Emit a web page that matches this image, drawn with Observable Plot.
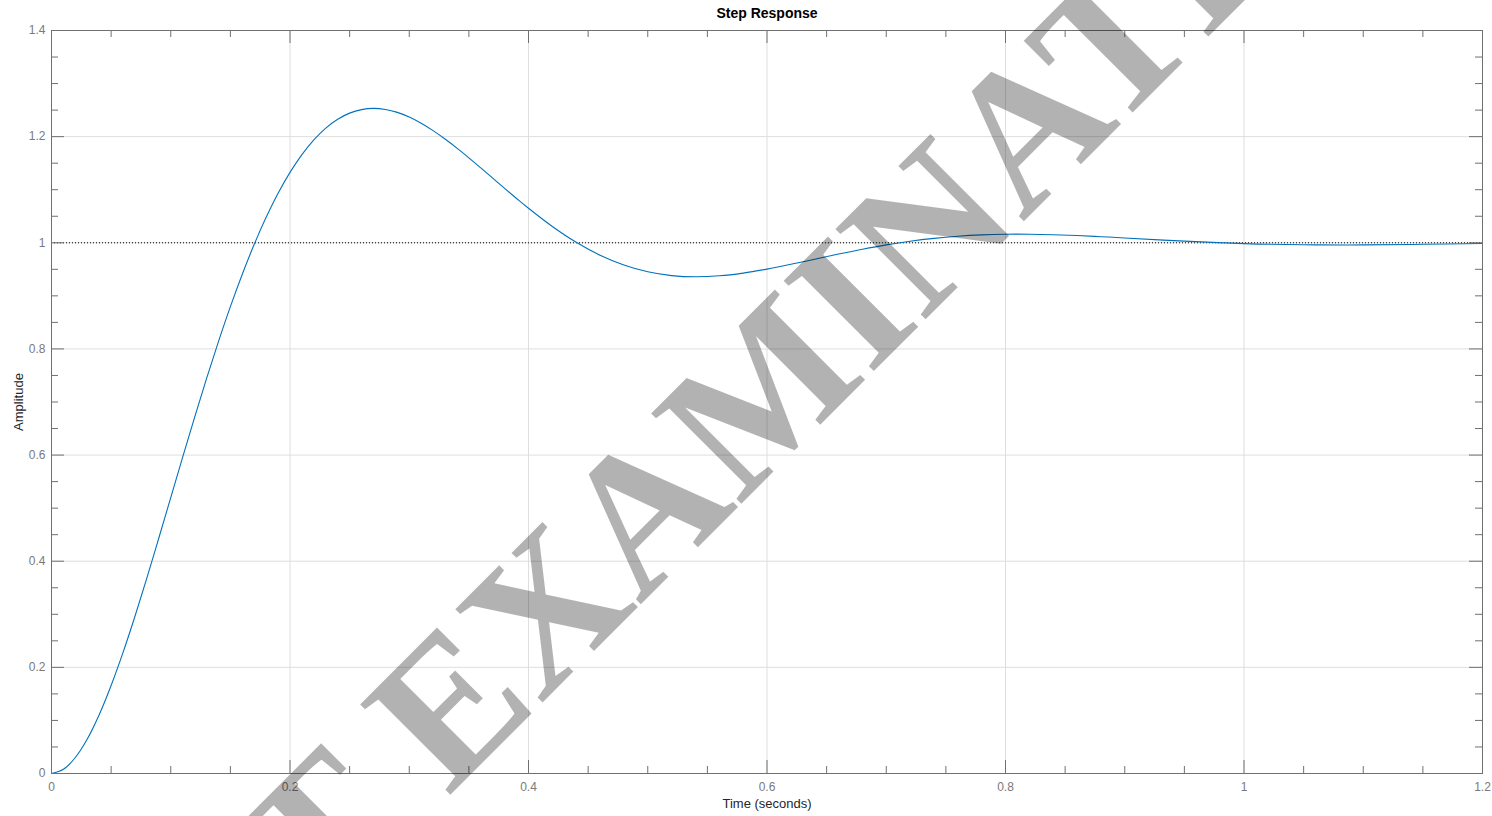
<!DOCTYPE html>
<html>
<head>
<meta charset="utf-8">
<script src="https://cdn.jsdelivr.net/npm/d3@7"></script>
<script src="https://cdn.jsdelivr.net/npm/@observablehq/plot@0.6"></script>
<style>
html, body { margin: 0; padding: 0; background: #fff; }
#chart { width: 1492px; height: 816px; overflow: hidden; }
</style>
</head>
<body>
<div id="chart"></div>
<script>
// ---- data ----
const time = [
  0.00, 0.01, 0.02, 0.03, 0.04, 0.05, 0.06, 0.07, 0.08, 0.09,
  0.10, 0.11, 0.12, 0.13, 0.14, 0.15, 0.16, 0.17, 0.18, 0.19,
  0.20, 0.21, 0.22, 0.23, 0.24, 0.25, 0.26, 0.27, 0.28, 0.29,
  0.30, 0.31, 0.32, 0.33, 0.34, 0.35, 0.36, 0.37, 0.38, 0.39,
  0.40, 0.42, 0.44, 0.46, 0.48, 0.50, 0.52, 0.54, 0.56, 0.58,
  0.60, 0.62, 0.64, 0.66, 0.68, 0.70, 0.72, 0.74, 0.76, 0.78,
  0.80, 0.82, 0.84, 0.86, 0.88, 0.90, 0.95, 1.00, 1.05, 1.10,
  1.15, 1.20
];
const amplitude = [
  0.0000, 0.0079, 0.0301, 0.0649, 0.1107, 0.1657, 0.2281, 0.2963, 0.3686, 0.4437,
  0.5199, 0.5962, 0.6712, 0.7441, 0.8137, 0.8796, 0.9408, 0.9971, 1.0480, 1.0932,
  1.1326, 1.1662, 1.1939, 1.2161, 1.2328, 1.2443, 1.2509, 1.2532, 1.2512, 1.2457,
  1.2369, 1.2253, 1.2114, 1.1956, 1.1784, 1.1601, 1.1411, 1.1218, 1.1025, 1.0835,
  1.0650, 1.0307, 1.0009, 0.9765, 0.9581, 0.9453, 0.9382, 0.9359, 0.9378, 0.9429,
  0.9504, 0.9594, 0.9691, 0.9788, 0.9879, 0.9961, 1.0030, 1.0084, 1.0124, 1.0149,
  1.0161, 1.0161, 1.0152, 1.0136, 1.0115, 1.0091, 1.0031, 0.9985, 0.9962, 0.9960,
  0.9971, 0.9986
];
const steadyState = [1];

const xMajorTicks = [0, 0.2, 0.4, 0.6, 0.8, 1, 1.2];
const xTickLabels = ["0", "0.2", "0.4", "0.6", "0.8", "1", "1.2"];
const xMinorTicks = [0.05, 0.1, 0.15, 0.25, 0.3, 0.35, 0.45, 0.5, 0.55, 0.65, 0.7, 0.75,
                     0.85, 0.9, 0.95, 1.05, 1.1, 1.15];
const yMajorTicks = [0, 0.2, 0.4, 0.6, 0.8, 1, 1.2, 1.4];
const yTickLabels = ["0", "0.2", "0.4", "0.6", "0.8", "1", "1.2", "1.4"];
const yMinorTicks = [0.05, 0.1, 0.15, 0.25, 0.3, 0.35, 0.45, 0.5, 0.55, 0.65, 0.7, 0.75,
                     0.85, 0.9, 0.95, 1.05, 1.1, 1.15, 1.25, 1.3, 1.35];

const titleText = "Step Response";
const xLabelText = "Time (seconds)";
const yLabelText = "Amplitude";
const watermarkBefore = "PAST";
const watermarkAfter = "EXAMINATION PAPER";

// ---- layout ----
const W = 1492, H = 816;
const mL = 51, mR = 10, mT = 30, mB = 43;
const innerH = H - mT - mB;
const innerW = W - mL - mR;
const majorLen = 13, minorLen = 7;
const AXIS = "#707070";
const TICKTEXT = "#7a7a7a";
const GRID = "#dedede";

const rows = time.map((t, i) => ({t, a: amplitude[i]}));

const svg = Plot.plot({
  width: W, height: H,
  marginLeft: mL, marginRight: mR, marginTop: mT, marginBottom: mB,
  style: {fontFamily: "'Liberation Sans', Arial, Helvetica, sans-serif", background: "#fff"},
  x: {domain: [0, 1.2]},
  y: {domain: [0, 1.4]},
  marks: [
    Plot.gridX(xMajorTicks, {stroke: GRID, strokeOpacity: 1}),
    Plot.gridY(yMajorTicks, {stroke: GRID, strokeOpacity: 1}),
    Plot.ruleY(steadyState, {stroke: "#000", strokeWidth: 1, strokeDasharray: "1,2"}),
    Plot.line(rows, {x: "t", y: "a", stroke: "#0072BD", strokeWidth: 1.1, curve: "catmull-rom"}),
    Plot.frame({stroke: AXIS, strokeWidth: 1}),
    // bottom ticks
    Plot.tickX(xMajorTicks, {x: d => d, insetTop: innerH - majorLen, stroke: AXIS}),
    Plot.tickX(xMinorTicks, {x: d => d, insetTop: innerH - minorLen, stroke: AXIS}),
    // top ticks
    Plot.tickX(xMajorTicks, {x: d => d, insetBottom: innerH - majorLen, stroke: AXIS}),
    Plot.tickX(xMinorTicks, {x: d => d, insetBottom: innerH - minorLen, stroke: AXIS}),
    // left ticks
    Plot.tickY(yMajorTicks, {y: d => d, insetRight: innerW - majorLen, stroke: AXIS}),
    Plot.tickY(yMinorTicks, {y: d => d, insetRight: innerW - minorLen, stroke: AXIS}),
    // right ticks
    Plot.tickY(yMajorTicks, {y: d => d, insetLeft: innerW - majorLen, stroke: AXIS}),
    Plot.tickY(yMinorTicks, {y: d => d, insetLeft: innerW - minorLen, stroke: AXIS}),
    Plot.axisX({ticks: xMajorTicks, tickSize: 0, tickPadding: 9, label: null,
      tickFormat: d => xTickLabels[xMajorTicks.indexOf(d)], color: TICKTEXT, fontSize: 12}),
    Plot.axisY({ticks: yMajorTicks, tickSize: 0, tickPadding: 6, label: null,
      tickFormat: d => yTickLabels[yMajorTicks.indexOf(d)], color: TICKTEXT, fontSize: 12}),
    Plot.text([titleText], {frameAnchor: "top", lineAnchor: "middle", textAnchor: "middle", dy: -17,
      fontWeight: "bold", fontSize: 14, fill: "#000"}),
    Plot.text([xLabelText], {frameAnchor: "bottom", lineAnchor: "middle", textAnchor: "middle", dy: 30,
      fontSize: 13, fill: "#262626"}),
    Plot.text([yLabelText], {frameAnchor: "left", lineAnchor: "middle", textAnchor: "middle", dx: -33,
      rotate: -90, fontSize: 13, fill: "#262626"})
  ]
});

// ---- watermark (semi-transparent serif text across the chart) ----
const wm = d3.select(svg).append("g")
  .attr("transform", "translate(448,797) rotate(-45)")
  .attr("font-family", "'Liberation Serif', 'Times New Roman', serif")
  .attr("font-size", 195)
  .attr("font-weight", "bold")
  .attr("fill", "#000")
  .attr("fill-opacity", 0.3);
wm.append("text").attr("x", 0).attr("text-anchor", "start").text(watermarkAfter);
wm.append("text").attr("x", -49).attr("text-anchor", "end").text(watermarkBefore);

document.getElementById("chart").appendChild(svg);
</script>
</body>
</html>
